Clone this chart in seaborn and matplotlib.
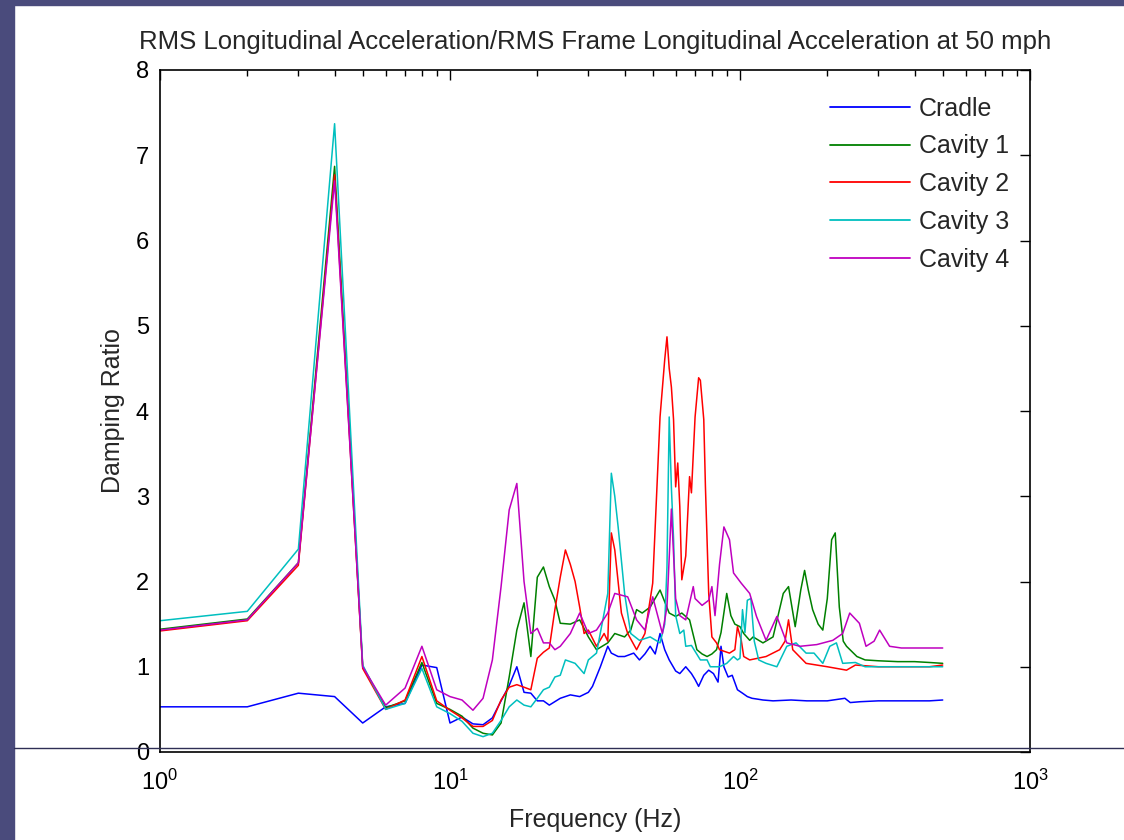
import numpy as np
import pandas as pd
import matplotlib
matplotlib.use("Agg")
import matplotlib.pyplot as plt
import seaborn as sns
from matplotlib.patches import Rectangle
from matplotlib.lines import Line2D

# ---------------- data ----------------
series_names = ["Cradle", "Cavity 1", "Cavity 2", "Cavity 3", "Cavity 4"]

cradle_f = [1, 2, 3, 4, 5, 6, 7, 8, 9, 10, 11, 12, 13, 14, 15, 16, 17, 18, 19, 20, 21, 22, 24, 26, 28, 30,
            31, 33, 35, 36, 38, 40, 43, 45, 47, 49, 51, 53, 55, 57, 60, 62, 65, 68, 70, 72, 75, 78, 81, 84,
            86, 88, 91, 94, 98, 102, 106, 110, 115, 120, 130, 150, 170, 200, 230, 240, 260, 300, 350, 400,
            450, 500]
cradle_v = [0.53, 0.53, 0.69, 0.65, 0.34, 0.53, 0.57, 1.02, 0.99, 0.34, 0.41, 0.33, 0.32, 0.40, 0.60, 0.78,
            1.00, 0.70, 0.69, 0.60, 0.60, 0.55, 0.63, 0.67, 0.65, 0.70, 0.77, 1.00, 1.24, 1.16, 1.12, 1.12,
            1.16, 1.08, 1.15, 1.24, 1.15, 1.39, 1.20, 1.08, 0.95, 0.92, 1.00, 0.92, 0.85, 0.77, 0.90, 0.96,
            0.92, 0.82, 1.24, 1.00, 0.88, 0.90, 0.73, 0.69, 0.65, 0.63, 0.62, 0.61, 0.60, 0.61, 0.60, 0.60,
            0.63, 0.58, 0.59, 0.60, 0.60, 0.60, 0.60, 0.61]

cav1_f = [1, 2, 3, 4, 5, 6, 7, 8, 9, 10, 11, 12, 13, 14, 15, 16, 17, 18, 19, 20, 21, 22, 23, 24, 26, 28, 30,
          32, 35, 37, 40, 42, 44, 46, 49, 53, 57, 60, 63, 67, 71, 74, 77, 80, 83, 86, 90, 93, 96, 100, 103,
          108, 111, 120, 130, 141, 147, 155, 162, 167, 172, 178, 186, 193, 200, 207, 213, 220, 227, 233,
          253, 270, 300, 350, 400, 450, 500]
cav1_v = [1.44, 1.56, 2.22, 6.87, 1.00, 0.52, 0.60, 1.05, 0.57, 0.50, 0.42, 0.28, 0.22, 0.20, 0.34, 0.88,
          1.43, 1.75, 1.12, 2.05, 2.17, 1.94, 1.78, 1.51, 1.50, 1.55, 1.35, 1.20, 1.28, 1.39, 1.35, 1.43,
          1.67, 1.63, 1.70, 1.90, 1.63, 1.59, 1.63, 1.55, 1.20, 1.15, 1.12, 1.15, 1.20, 1.40, 1.86, 1.60,
          1.50, 1.47, 1.39, 1.31, 1.35, 1.28, 1.35, 1.86, 1.94, 1.47, 1.90, 2.13, 1.90, 1.67, 1.50, 1.43,
          1.80, 2.49, 2.57, 1.70, 1.30, 1.24, 1.12, 1.08, 1.07, 1.06, 1.06, 1.05, 1.04]

cav2_f = [1, 2, 3, 4, 5, 6, 7, 8, 9, 10, 11, 12, 13, 14, 15, 16, 17, 18, 19, 20, 21, 22, 23, 24, 25, 26, 27,
          28, 29, 30, 32, 34, 35, 36, 37, 39, 41, 44, 47, 50, 51, 53, 55, 56, 57, 58, 59, 60, 61, 62, 63,
          65, 67, 68, 70, 72, 73, 75, 76, 78, 80, 83, 85, 92, 96, 98, 101, 103, 108, 123, 137, 143, 147,
          152, 169, 200, 233, 250, 300, 350, 400, 450, 500]
cav2_v = [1.42, 1.54, 2.19, 6.77, 0.98, 0.50, 0.61, 1.12, 0.60, 0.49, 0.40, 0.30, 0.30, 0.37, 0.61, 0.76,
          0.79, 0.76, 0.73, 1.10, 1.17, 1.22, 1.67, 2.05, 2.37, 2.20, 2.00, 1.70, 1.39, 1.43, 1.24, 1.39,
          1.30, 2.57, 2.37, 1.63, 1.39, 1.20, 1.39, 1.98, 2.64, 3.93, 4.60, 4.87, 4.50, 4.28, 3.90, 3.11,
          3.39, 2.88, 2.02, 2.30, 3.23, 3.04, 3.93, 4.39, 4.36, 3.90, 3.11, 1.86, 1.35, 1.28, 1.20, 1.16,
          1.20, 1.47, 1.31, 1.12, 1.08, 1.12, 1.20, 1.30, 1.55, 1.20, 1.04, 1.00, 0.96, 1.02, 1.00, 1.00,
          1.00, 1.00, 1.02]

cav3_f = [1, 2, 3, 4, 5, 6, 7, 8, 9, 10, 11, 12, 13, 14, 15, 16, 17, 18, 19, 20, 21, 22, 23, 24, 25, 27, 29,
          30, 32, 34, 35, 36, 37, 38, 40, 42, 45, 49, 53, 55, 56, 57, 58, 59, 60, 62, 64, 65, 68, 73, 77,
          79, 85, 90, 95, 98, 100, 102, 104, 106, 109, 112, 116, 123, 134, 145, 156, 169, 180, 193, 204,
          215, 226, 250, 270, 300, 350, 400, 450, 500]
cav3_v = [1.54, 1.65, 2.38, 7.37, 1.02, 0.50, 0.57, 0.98, 0.53, 0.45, 0.36, 0.22, 0.18, 0.22, 0.37, 0.53,
          0.61, 0.55, 0.53, 0.63, 0.73, 0.76, 0.88, 0.90, 1.08, 1.04, 0.92, 1.08, 1.16, 1.63, 1.86, 3.27,
          3.00, 2.64, 1.86, 1.39, 1.31, 1.35, 1.28, 1.50, 2.17, 3.93, 3.10, 2.50, 1.60, 1.39, 1.43, 1.24,
          1.25, 1.08, 1.08, 1.00, 1.00, 1.04, 1.12, 1.08, 1.10, 1.67, 1.40, 1.78, 1.80, 1.30, 1.08, 1.04,
          1.00, 1.24, 1.28, 1.16, 1.16, 1.04, 1.24, 1.28, 1.04, 1.05, 1.00, 1.00, 1.00, 1.00, 1.00, 1.00]

cav4_f = [1, 2, 3, 4, 5, 6, 7, 8, 9, 10, 11, 12, 13, 14, 15, 16, 17, 18, 19, 20, 21, 22, 23, 24, 26, 28, 30,
          32, 35, 37, 41, 44, 47, 50, 54, 56, 58, 60, 62, 65, 69, 70, 74, 78, 80, 82, 85, 88, 92, 95, 101,
          108, 114, 123, 134, 145, 161, 184, 209, 226, 239, 258, 272, 290, 303, 328, 360, 400, 450, 500]
cav4_v = [1.43, 1.55, 2.22, 6.70, 1.00, 0.55, 0.75, 1.24, 0.73, 0.65, 0.61, 0.49, 0.63, 1.08, 1.94, 2.84,
          3.15, 2.00, 1.39, 1.45, 1.28, 1.28, 1.20, 1.24, 1.39, 1.63, 1.39, 1.43, 1.63, 1.86, 1.82, 1.55,
          1.43, 1.82, 1.39, 1.70, 2.85, 1.80, 1.60, 1.55, 1.94, 1.80, 1.72, 1.78, 1.94, 1.60, 2.20, 2.64,
          2.49, 2.10, 1.98, 1.86, 1.59, 1.31, 1.59, 1.28, 1.24, 1.26, 1.31, 1.39, 1.63, 1.51, 1.24, 1.30,
          1.43, 1.24, 1.22, 1.22, 1.22, 1.22]

title_text = "RMS Longitudinal Acceleration/RMS Frame Longitudinal Acceleration at 50 mph"
x_label = "Frequency (Hz)"
y_label = "Damping Ratio"
y_ticks = [0, 1, 2, 3, 4, 5, 6, 7, 8]
colors = ["#0000FF", "#008000", "#FF0000", "#00BFBF", "#BF00BF"]

# ---------------- build table ----------------
freqs = [cradle_f, cav1_f, cav2_f, cav3_f, cav4_f]
vals = [cradle_v, cav1_v, cav2_v, cav3_v, cav4_v]
frames = []
for name, f, v in zip(series_names, freqs, vals):
    frames.append(pd.DataFrame({"Frequency": f, "Value": v, "Series": name}))
df = pd.concat(frames, ignore_index=True)

# ---------------- plot ----------------
sns.set_style("white")
plt.rcParams["font.family"] = ["Liberation Sans", "DejaVu Sans"]

W, H = 1124, 840
fig = plt.figure(figsize=(W / 100, H / 100), dpi=100)
fig.patch.set_facecolor("white")

ax = fig.add_axes([160 / W, 1 - 752 / H, (1030 - 160) / W, (752 - 70) / H])
sns.lineplot(data=df, x="Frequency", y="Value", hue="Series", hue_order=series_names,
             palette=colors, estimator=None, linewidth=1.1, ax=ax)

ax.set_xscale("log")
ax.set_xlim(1, 1000)
ax.set_ylim(0, 8)
ax.set_yticks(y_ticks)
for s in ax.spines.values():
    s.set_visible(True)
    s.set_color("black")
    s.set_linewidth(1.2)
ax.tick_params(which="both", direction="in", top=True, right=True, colors="black",
               labelsize=17)
ax.tick_params(which="major", length=7, width=1)
ax.tick_params(which="minor", length=4.5, width=1)
ax.tick_params(axis="x", which="major", pad=13)
ax.tick_params(axis="y", which="major", pad=8)

ax.set_title(title_text, fontsize=18.5, pad=15)
ax.set_xlabel(x_label, fontsize=18, labelpad=9)
ax.set_ylabel(y_label, fontsize=18, labelpad=8)

leg = ax.legend(loc="upper left", bbox_to_anchor=(817 / W, 1 - 84 / H),
                bbox_transform=fig.transFigure, frameon=False, fontsize=18,
                handlelength=3.2, handletextpad=0.38, labelspacing=0.55, borderpad=0)
for line in leg.get_lines():
    line.set_linewidth(1.3)

# slide decoration (background strips and rule)
fig.add_artist(Rectangle((0, 0), 14 / W, 1, transform=fig.transFigure,
                         color="#4a4b7c", zorder=-5))
fig.add_artist(Rectangle((0, 1 - 5 / H), 1, 5 / H, transform=fig.transFigure,
                         color="#4a4b7c", zorder=-5))
fig.add_artist(Line2D([14 / W, 1], [1 - 748 / H, 1 - 748 / H], transform=fig.transFigure,
                      color="#2f2f55", linewidth=1.0, zorder=10))

fig.savefig("out.png", dpi=100, facecolor=fig.get_facecolor())
